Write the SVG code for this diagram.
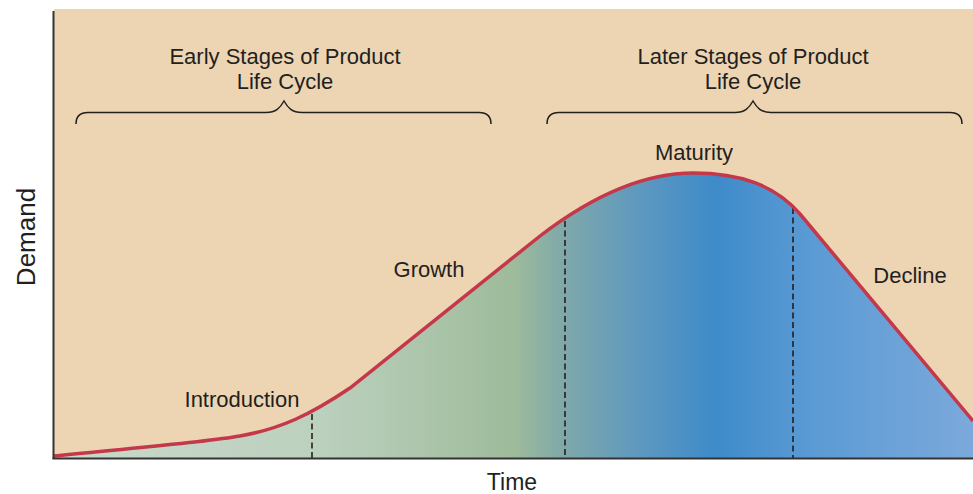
<svg xmlns="http://www.w3.org/2000/svg" width="973" height="494" viewBox="0 0 973 494">
<style>
  text { font-family: "Liberation Sans", Arial, sans-serif; font-size: 22px; fill: #231f20; }
  .mid { text-anchor: middle; }
  .brace { fill: none; stroke: #231f20; stroke-width: 1.5; }
  .dash { stroke: #231f20; stroke-width: 1.6; stroke-dasharray: 6 3.5; fill: none; }
  .axis { stroke: #333; stroke-width: 2; fill: none; }
</style>
<defs>
  <linearGradient id="fillGrad" gradientUnits="userSpaceOnUse" x1="54" y1="0" x2="973" y2="0">
    <stop offset="0" stop-color="#c9d9c9"/>
    <stop offset="0.28" stop-color="#bdd1bf"/>
    <stop offset="0.50" stop-color="#9ebb9b"/>
    <stop offset="0.555" stop-color="#7fa8aa"/>
    <stop offset="0.64" stop-color="#5d98c0"/>
    <stop offset="0.72" stop-color="#3e8bca"/>
    <stop offset="0.82" stop-color="#5a9ad4"/>
    <stop offset="1" stop-color="#7ca9db"/>
  </linearGradient>
</defs>
<rect x="54" y="9" width="919" height="450" fill="#edd5b4"/>
<g id="area">
  <path d="M54,456 C120,449 200,443 240,436 C280,429 310,415 350,388 L540,236 C600,190 650,173 693,173 C740,173 775,185 800,214 L973,421 L973,459 L54,459 Z" fill="url(#fillGrad)"/>
</g>
<g id="dividers">
  <line class="dash" x1="312" y1="414" x2="312" y2="458"/>
  <line class="dash" x1="565" y1="221" x2="565" y2="458"/>
  <line class="dash" x1="793" y1="208" x2="793" y2="458"/>
</g>
<g id="curve">
  <path d="M54,456 C120,449 200,443 240,436 C280,429 310,415 350,388 L540,236 C600,190 650,173 693,173 C740,173 775,185 800,214 L973,421" fill="none" stroke="#c4384a" stroke-width="3.5"/>
</g>
<g id="axes">
  <line class="axis" x1="53.5" y1="11" x2="53.5" y2="459"/>
  <line class="axis" x1="52.5" y1="458.5" x2="973" y2="458.5"/>
</g>
<g id="early-stages">
  <text class="mid" x="285" y="64">Early Stages of Product</text>
  <text class="mid" x="285" y="89">Life Cycle</text>
  <path class="brace" d="M76,124 C76,116 80,112.5 88,112.5 L266,112.5 C276,112.5 280,108 284,101 C288,108 292,112.5 302,112.5 L479,112.5 C487,112.5 491,116 491,124"/>
</g>
<g id="later-stages">
  <text class="mid" x="753" y="64">Later Stages of Product</text>
  <text class="mid" x="753" y="89">Life Cycle</text>
  <path class="brace" d="M547,124 C547,116 551,112.5 559,112.5 L735,112.5 C745,112.5 749,108 753,101 C757,108 761,112.5 771,112.5 L950,112.5 C958,112.5 962,116 962,124"/>
</g>
<g id="introduction"><text class="mid" x="242" y="407">Introduction</text></g>
<g id="growth"><text class="mid" x="429" y="277">Growth</text></g>
<g id="maturity"><text class="mid" x="694" y="160">Maturity</text></g>
<g id="decline"><text class="mid" x="910" y="283">Decline</text></g>
<g id="x-label"><text class="mid" x="512" y="490" style="font-size:23px">Time</text></g>
<g id="y-label"><text class="mid" transform="translate(35,237) rotate(-90)" style="font-size:26px">Demand</text></g>
</svg>
